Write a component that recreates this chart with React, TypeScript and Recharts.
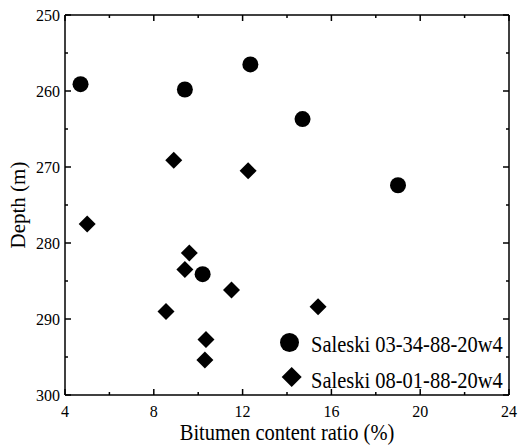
import { ScatterChart, Scatter, XAxis, YAxis, Legend, Label } from "recharts";

const wellA = "Saleski 03-34-88-20w4";
const wellB = "Saleski 08-01-88-20w4";

// bitumen content ratio (%) and depth (m) per sample
const wellARatio = [4.7, 9.4, 12.35, 14.7, 10.2, 19.0];
const wellADepth = [259.1, 259.8, 256.5, 263.7, 284.1, 272.4];

const wellBRatio = [8.9, 12.25, 5.0, 9.6, 9.4, 11.5, 8.55, 15.4, 10.35, 10.3];
const wellBDepth = [269.1, 270.5, 277.5, 281.3, 283.5, 286.2, 289.0, 288.4, 292.7, 295.4];

const xTicks = [4, 6, 8, 10, 12, 14, 16, 18, 20, 22, 24];
const yTicks = [250, 255, 260, 265, 270, 275, 280, 285, 290, 295, 300];

const dataA = wellARatio.map((x, i) => ({ x, y: wellADepth[i] }));
const dataB = wellBRatio.map((x, i) => ({ x, y: wellBDepth[i] }));

const FONT = "'Liberation Serif', 'Times New Roman', serif";

const isMajorX = (v: number) => (v - 4) % 4 === 0;
const isMajorY = (v: number) => v % 10 === 0;

const BottomTick = ({ x, y, payload }: any) => {
  const major = isMajorX(payload.value);
  return (
    <g>
      <line x1={x} x2={x} y1={y} y2={y - (major ? 6 : 3)} stroke="#000" strokeWidth={1.5} />
      {major && (
        <text x={x} y={y + 22} textAnchor="middle" fontFamily={FONT} fontSize={16} fill="#000">
          {payload.value}
        </text>
      )}
    </g>
  );
};

const TopTick = ({ x, y, payload }: any) => (
  <line x1={x} x2={x} y1={y} y2={y + (isMajorX(payload.value) ? 6 : 3)} stroke="#000" strokeWidth={1.5} />
);

const LeftTick = ({ x, y, payload }: any) => {
  const major = isMajorY(payload.value);
  return (
    <g>
      <line x1={x} x2={x + (major ? 6 : 3)} y1={y} y2={y} stroke="#000" strokeWidth={1.5} />
      {major && (
        <text x={x - 5} y={y + 6} textAnchor="end" fontFamily={FONT} fontSize={16} fill="#000">
          {payload.value}
        </text>
      )}
    </g>
  );
};

const RightTick = ({ x, y, payload }: any) => (
  <line x1={x} x2={x - (isMajorY(payload.value) ? 6 : 3)} y1={y} y2={y} stroke="#000" strokeWidth={1.5} />
);

const Dot = ({ cx, cy }: any) => <circle cx={cx} cy={cy} r={8} fill="#000" />;

const Diamond = ({ cx, cy }: any) => (
  <path d={`M${cx},${cy - 8.5}L${cx + 8.5},${cy}L${cx},${cy + 8.5}L${cx - 8.5},${cy}Z`} fill="#000" />
);

const XTitle = ({ viewBox }: any) => {
  const cx = viewBox.x + viewBox.width / 2;
  return (
    <text
      transform={`translate(${cx},440) scale(1,1.08)`}
      textAnchor="middle"
      fontFamily={FONT}
      fontSize={20.5}
      fill="#000"
    >
      Bitumen content ratio (%)
    </text>
  );
};

const YTitle = ({ viewBox }: any) => {
  const cy = viewBox.y + viewBox.height / 2;
  return (
    <text
      transform={`translate(25,${cy}) rotate(-90)`}
      textAnchor="middle"
      fontFamily={FONT}
      fontSize={21}
      fill="#000"
    >
      Depth (m)
    </text>
  );
};

const LegendBox = () => (
  <svg width={240} height={72}>
    <circle cx={19.5} cy={17.5} r={9.5} fill="#000" />
    <text transform="translate(41,26.5) scale(1,1.12)" fontFamily={FONT} fontSize={20.5} fill="#000">
      {wellA}
    </text>
    <path d="M21.7,42L31.7,52L21.7,62L11.7,52Z" fill="#000" />
    <text transform="translate(41,63) scale(1,1.12)" fontFamily={FONT} fontSize={20.5} fill="#000">
      {wellB}
    </text>
  </svg>
);

export default function App() {
  return (
    <div style={{ position: "absolute", left: 0, top: 0, width: 518, height: 446, background: "#fff" }}>
      <ScatterChart width={518} height={446} margin={{ top: 14, right: 8, bottom: 0, left: 0 }}>
        <XAxis
          xAxisId="bottom"
          type="number"
          dataKey="x"
          domain={[4, 24]}
          ticks={xTicks}
          allowDataOverflow
          height={51}
          tickSize={0}
          tickMargin={0}
          tickLine={false}
          tick={BottomTick}
          axisLine={{ stroke: "#000", strokeWidth: 1.5 }}
          interval={0}
        >
          <Label content={XTitle} />
        </XAxis>
        <XAxis
          xAxisId="top"
          orientation="top"
          type="number"
          dataKey="x"
          domain={[4, 24]}
          ticks={xTicks}
          allowDataOverflow
          height={1}
          tickSize={0}
          tickMargin={0}
          tickLine={false}
          tick={TopTick}
          axisLine={{ stroke: "#000", strokeWidth: 1.5 }}
          interval={0}
        />
        <YAxis
          yAxisId="left"
          type="number"
          dataKey="y"
          domain={[250, 300]}
          ticks={yTicks}
          reversed
          allowDataOverflow
          width={65}
          tickSize={0}
          tickMargin={0}
          tickLine={false}
          tick={LeftTick}
          axisLine={{ stroke: "#000", strokeWidth: 1.5 }}
          interval={0}
        >
          <Label content={YTitle} />
        </YAxis>
        <YAxis
          yAxisId="right"
          orientation="right"
          type="number"
          dataKey="y"
          domain={[250, 300]}
          ticks={yTicks}
          reversed
          allowDataOverflow
          width={1}
          tickSize={0}
          tickMargin={0}
          tickLine={false}
          tick={RightTick}
          axisLine={{ stroke: "#000", strokeWidth: 1.5 }}
          interval={0}
        />
        <Scatter
          name={wellA}
          data={dataA}
          xAxisId="bottom"
          yAxisId="left"
          shape={Dot}
          isAnimationActive={false}
        />
        <Scatter
          name={wellB}
          data={dataB}
          xAxisId="bottom"
          yAxisId="left"
          shape={Diamond}
          isAnimationActive={false}
        />
        {/* invisible series so the mirrored top/right axes get drawn */}
        <Scatter
          data={dataA}
          xAxisId="top"
          yAxisId="right"
          shape={() => <g />}
          legendType="none"
          isAnimationActive={false}
        />
        <Legend
          layout="vertical"
          align="center"
          verticalAlign="middle"
          content={LegendBox}
          wrapperStyle={{ left: 270, top: 325, width: 240, height: 72 }}
        />
      </ScatterChart>
    </div>
  );
}
